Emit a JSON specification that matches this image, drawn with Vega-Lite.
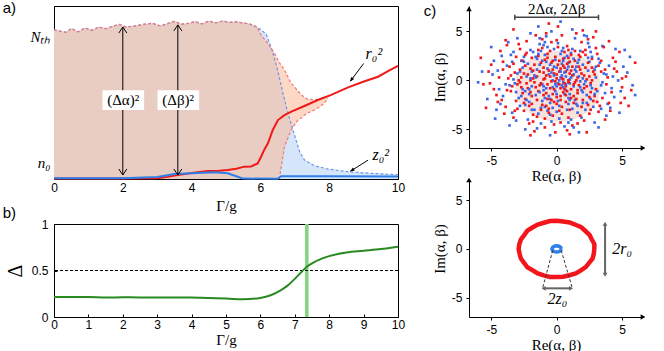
{
"$schema": "https://vega.github.io/schema/vega-lite/v6.json",
"background": "white",
"padding": {"left": 2, "top": 0, "right": 0, "bottom": 0},
"config": {
 "view": {"stroke": "black", "strokeWidth": 1},
 "axis": {"grid": false, "labelFont": "Liberation Sans", "labelFontSize": 12, "labelColor": "black", "tickColor": "black", "domainColor": "black", "tickSize": -3, "titleFont": "Liberation Serif", "titleFontSize": 15, "titleFontWeight": "normal", "titleColor": "black", "labelPadding": 3, "labelFlush": false, "labelOverlap": false},
 "text": {"font": "Liberation Serif", "fontSize": 15, "color": "black"}
},
"datasets": {
 "band": [
  {"x":0,"s":"r","lo":0,"hi":10.5},{"x":0.2,"s":"r","lo":0,"hi":10.4},{"x":0.35,"s":"r","lo":0,"hi":10.33},{"x":0.5,"s":"r","lo":0,"hi":10.6},{"x":0.7,"s":"r","lo":0,"hi":10.36},{"x":0.9,"s":"r","lo":0,"hi":10.63},{"x":1.1,"s":"r","lo":0,"hi":10.47},{"x":1.3,"s":"r","lo":0,"hi":10.7},{"x":1.5,"s":"r","lo":0,"hi":10.58},{"x":1.7,"s":"r","lo":0,"hi":10.75},{"x":1.9,"s":"r","lo":0,"hi":10.88},{"x":2.1,"s":"r","lo":0,"hi":10.7},{"x":2.35,"s":"r","lo":0,"hi":10.78},{"x":2.6,"s":"r","lo":0,"hi":10.88},{"x":2.85,"s":"r","lo":0,"hi":10.97},{"x":3.1,"s":"r","lo":0,"hi":10.77},{"x":3.3,"s":"r","lo":0,"hi":10.94},{"x":3.5,"s":"r","lo":0,"hi":11.1},{"x":3.7,"s":"r","lo":0,"hi":10.9},{"x":3.9,"s":"r","lo":0,"hi":10.95},{"x":4.1,"s":"r","lo":0,"hi":11.08},{"x":4.3,"s":"r","lo":0,"hi":10.92},{"x":4.5,"s":"r","lo":0,"hi":11.12},{"x":4.7,"s":"r","lo":0,"hi":11.0},{"x":4.9,"s":"r","lo":0,"hi":11.12},{"x":5.1,"s":"r","lo":0,"hi":11.03},{"x":5.3,"s":"r","lo":0,"hi":11.06},{"x":5.5,"s":"r","lo":0,"hi":10.98},{"x":5.7,"s":"r","lo":0,"hi":10.92},{"x":5.9,"s":"r","lo":0,"hi":10.7},{"x":6.02,"s":"r","lo":0,"hi":10.14},{"x":6.2,"s":"r","lo":0,"hi":9.6},{"x":6.41,"s":"r","lo":0,"hi":8.85},{"x":6.55,"s":"r","lo":0,"hi":8.2},{"x":6.7,"s":"r","lo":2.27,"hi":7.68},{"x":6.89,"s":"r","lo":3.45,"hi":6.75},{"x":7.09,"s":"r","lo":4.15,"hi":6.2},{"x":7.19,"s":"r","lo":4.3,"hi":5.92},{"x":7.28,"s":"r","lo":4.5,"hi":5.75},{"x":7.38,"s":"r","lo":4.65,"hi":5.61},{"x":7.57,"s":"r","lo":4.86,"hi":5.58},{"x":7.67,"s":"r","lo":5.0,"hi":5.61},{"x":7.86,"s":"r","lo":5.33,"hi":5.75},{"x":7.96,"s":"r","lo":5.7,"hi":5.85},
  {"x":0,"s":"b","lo":0,"hi":10.5},{"x":0.2,"s":"b","lo":0,"hi":10.4},{"x":0.35,"s":"b","lo":0,"hi":10.33},{"x":0.5,"s":"b","lo":0,"hi":10.6},{"x":0.7,"s":"b","lo":0,"hi":10.36},{"x":0.9,"s":"b","lo":0,"hi":10.63},{"x":1.1,"s":"b","lo":0,"hi":10.47},{"x":1.3,"s":"b","lo":0,"hi":10.7},{"x":1.5,"s":"b","lo":0,"hi":10.58},{"x":1.7,"s":"b","lo":0,"hi":10.75},{"x":1.9,"s":"b","lo":0,"hi":10.88},{"x":2.1,"s":"b","lo":0,"hi":10.7},{"x":2.35,"s":"b","lo":0,"hi":10.78},{"x":2.6,"s":"b","lo":0,"hi":10.88},{"x":2.85,"s":"b","lo":0,"hi":10.97},{"x":3.1,"s":"b","lo":0,"hi":10.77},{"x":3.3,"s":"b","lo":0,"hi":10.94},{"x":3.5,"s":"b","lo":0,"hi":11.1},{"x":3.7,"s":"b","lo":0,"hi":10.9},{"x":3.9,"s":"b","lo":0,"hi":10.95},{"x":4.1,"s":"b","lo":0,"hi":11.08},{"x":4.3,"s":"b","lo":0,"hi":10.92},{"x":4.5,"s":"b","lo":0,"hi":11.12},{"x":4.7,"s":"b","lo":0,"hi":11.0},{"x":4.9,"s":"b","lo":0,"hi":11.12},{"x":5.1,"s":"b","lo":0,"hi":11.03},{"x":5.3,"s":"b","lo":0,"hi":11.06},{"x":5.5,"s":"b","lo":0,"hi":10.98},{"x":5.6,"s":"b","lo":0,"hi":10.95},{"x":5.8,"s":"b","lo":0,"hi":10.8},{"x":6.0,"s":"b","lo":0,"hi":10.55},{"x":6.17,"s":"b","lo":0,"hi":10.2},{"x":6.35,"s":"b","lo":0,"hi":9.0},{"x":6.5,"s":"b","lo":0,"hi":7.68},{"x":6.65,"s":"b","lo":0,"hi":6.1},{"x":6.8,"s":"b","lo":0,"hi":4.63},{"x":6.99,"s":"b","lo":0,"hi":3.1},{"x":7.14,"s":"b","lo":0,"hi":1.92},{"x":7.28,"s":"b","lo":0,"hi":1.34},{"x":7.57,"s":"b","lo":0,"hi":0.94},{"x":7.96,"s":"b","lo":0,"hi":0.7},{"x":8.55,"s":"b","lo":0,"hi":0.51},{"x":9.22,"s":"b","lo":0,"hi":0.4},{"x":10,"s":"b","lo":0,"hi":0.3}
 ],
 "sol": [
  {"x":0,"s":"r","v":0.03},{"x":1,"s":"r","v":0.03},{"x":2,"s":"r","v":0.04},{"x":3.0,"s":"r","v":0.06},{"x":3.3,"s":"r","v":0.15},{"x":3.6,"s":"r","v":0.28},{"x":4.0,"s":"r","v":0.42},{"x":4.47,"s":"r","v":0.56},{"x":4.8,"s":"r","v":0.58},{"x":5.05,"s":"r","v":0.63},{"x":5.3,"s":"r","v":0.72},{"x":5.53,"s":"r","v":0.87},{"x":5.73,"s":"r","v":0.88},{"x":5.92,"s":"r","v":1.1},{"x":6.02,"s":"r","v":1.57},{"x":6.12,"s":"r","v":2.1},{"x":6.22,"s":"r","v":2.51},{"x":6.36,"s":"r","v":3.45},{"x":6.51,"s":"r","v":4.15},{"x":6.7,"s":"r","v":4.5},{"x":6.9,"s":"r","v":4.74},{"x":7.28,"s":"r","v":5.14},{"x":7.67,"s":"r","v":5.56},{"x":8.06,"s":"r","v":5.92},{"x":8.55,"s":"r","v":6.45},{"x":9.03,"s":"r","v":6.88},{"x":9.42,"s":"r","v":7.2},{"x":9.71,"s":"r","v":7.6},{"x":10,"s":"r","v":7.96},
  {"x":0,"s":"b","v":0.05},{"x":2,"s":"b","v":0.06},{"x":3.0,"s":"b","v":0.14},{"x":3.5,"s":"b","v":0.35},{"x":4.0,"s":"b","v":0.4},{"x":4.5,"s":"b","v":0.45},{"x":4.66,"s":"b","v":0.47},{"x":5.05,"s":"b","v":0.4},{"x":5.34,"s":"b","v":0.16},{"x":5.5,"s":"b","v":0.03},{"x":6.5,"s":"b","v":0.02},{"x":6.6,"s":"b","v":0.2},{"x":7,"s":"b","v":0.2},{"x":8,"s":"b","v":0.2},{"x":10,"s":"b","v":0.18}
 ],
 "delta": [
  {"x":0,"d":0.216},{"x":0.5,"d":0.214},{"x":1,"d":0.215},{"x":1.5,"d":0.21},{"x":2,"d":0.212},{"x":3,"d":0.21},{"x":4,"d":0.21},{"x":4.5,"d":0.203},{"x":5,"d":0.198},{"x":5.5,"d":0.19},{"x":6,"d":0.205},{"x":6.3,"d":0.234},{"x":6.6,"d":0.29},{"x":6.8,"d":0.34},{"x":7.0,"d":0.41},{"x":7.2,"d":0.486},{"x":7.35,"d":0.54},{"x":7.5,"d":0.576},{"x":7.8,"d":0.63},{"x":8.0,"d":0.655},{"x":8.5,"d":0.694},{"x":9,"d":0.712},{"x":9.5,"d":0.73},{"x":10,"d":0.755}
 ],
 "scat": [
  {"x":-0.4,"y":0.8,"c":"b"},{"x":1.3,"y":-0.6,"c":"b"},{"x":-2.1,"y":-1.4,"c":"b"},{"x":0.6,"y":2.3,"c":"b"},{"x":2.5,"y":1.9,"c":"b"},{"x":-1.2,"y":-2.8,"c":"b"},{"x":0.1,"y":-0.3,"c":"b"},{"x":3.1,"y":-1.1,"c":"b"},{"x":-2.7,"y":2.0,"c":"b"},{"x":1.8,"y":3.0,"c":"b"},
  {"x":-0.6,"y":-1.6,"c":"b"},{"x":2.0,"y":0.2,"c":"b"},{"x":-1.5,"y":1.1,"c":"b"},{"x":0.9,"y":-2.4,"c":"b"},{"x":-3.2,"y":-0.3,"c":"b"},{"x":1.5,"y":1.4,"c":"b"},{"x":-0.2,"y":3.2,"c":"b"},{"x":2.8,"y":-2.7,"c":"b"},{"x":-1.9,"y":-0.6,"c":"b"},{"x":0.4,"y":0.5,"c":"b"},
  {"x":-1.1,"y":-0.4,"c":"b"},{"x":3.6,"y":0.7,"c":"b"},{"x":-2.4,"y":-2.5,"c":"b"},{"x":0.2,"y":-3.9,"c":"b"},{"x":1.1,"y":2.8,"c":"b"},{"x":-3.8,"y":1.5,"c":"b"},{"x":2.3,"y":-1.5,"c":"b"},{"x":-0.8,"y":1.9,"c":"b"},{"x":0.7,"y":-1.0,"c":"b"},{"x":-2.0,"y":3.1,"c":"b"},
  {"x":4.2,"y":-0.8,"c":"b"},{"x":-4.4,"y":-0.9,"c":"b"},{"x":1.6,"y":-3.3,"c":"b"},{"x":-1.3,"y":3.7,"c":"b"},{"x":0.0,"y":1.3,"c":"b"},{"x":2.6,"y":2.9,"c":"b"},{"x":-2.9,"y":-1.8,"c":"b"},{"x":1.0,"y":0.1,"c":"b"},{"x":-0.5,"y":-2.3,"c":"b"},{"x":3.3,"y":1.8,"c":"b"},
  {"x":-1.7,"y":0.5,"c":"b"},{"x":0.5,"y":-0.7,"c":"b"},{"x":-0.9,"y":2.6,"c":"b"},{"x":2.1,"y":-0.4,"c":"b"},{"x":-2.6,"y":-0.9,"c":"b"},{"x":1.4,"y":-2.0,"c":"b"},{"x":-0.3,"y":0.0,"c":"b"},{"x":0.8,"y":1.1,"c":"b"},{"x":-3.5,"y":2.6,"c":"b"},{"x":3.9,"y":-2.4,"c":"b"},
  {"x":-1.4,"y":-3.4,"c":"b"},{"x":2.4,"y":3.8,"c":"b"},{"x":-0.1,"y":-1.1,"c":"b"},{"x":1.9,"y":-1.0,"c":"b"},{"x":-2.2,"y":1.7,"c":"b"},{"x":0.3,"y":2.7,"c":"b"},{"x":4.7,"y":0.0,"c":"b"},{"x":-4.9,"y":0.6,"c":"b"},{"x":0.6,"y":-4.7,"c":"b"},{"x":-0.8,"y":4.5,"c":"b"},
  {"x":5.1,"y":1.4,"c":"b"},{"x":-5.3,"y":-1.9,"c":"b"},{"x":2.9,"y":-4.3,"c":"b"},{"x":-3.0,"y":4.3,"c":"b"},{"x":1.2,"y":5.2,"c":"b"},{"x":-1.5,"y":-4.9,"c":"b"},{"x":4.4,"y":-1.7,"c":"b"},{"x":-4.2,"y":2.5,"c":"b"},{"x":3.5,"y":3.5,"c":"b"},{"x":-3.4,"y":-3.3,"c":"b"},
  {"x":0.0,"y":-0.6,"c":"b"},{"x":1.3,"y":0.6,"c":"b"},{"x":-1.0,"y":-1.0,"c":"b"},{"x":0.4,"y":1.7,"c":"b"},{"x":-2.3,"y":0.4,"c":"b"},{"x":2.7,"y":-0.8,"c":"b"},{"x":-0.7,"y":-3.1,"c":"b"},{"x":1.7,"y":2.1,"c":"b"},{"x":-1.8,"y":2.9,"c":"b"},{"x":0.9,"y":-1.8,"c":"b"},
  {"x":3.0,"y":0.3,"c":"b"},{"x":-3.1,"y":-1.2,"c":"b"},{"x":0.1,"y":3.8,"c":"b"},{"x":-0.4,"y":-4.2,"c":"b"},{"x":2.2,"y":-3.0,"c":"b"},{"x":-2.5,"y":2.4,"c":"b"},{"x":1.5,"y":0.9,"c":"b"},{"x":-1.1,"y":-2.1,"c":"b"},{"x":0.7,"y":0.4,"c":"b"},{"x":-0.2,"y":1.4,"c":"b"},
  {"x":5.8,"y":-0.5,"c":"b"},{"x":-5.7,"y":0.9,"c":"b"},{"x":0.3,"y":6.0,"c":"b"},{"x":-0.5,"y":-5.6,"c":"b"},{"x":4.5,"y":3.2,"c":"b"},{"x":-4.6,"y":-3.0,"c":"b"},{"x":3.8,"y":-3.6,"c":"b"},{"x":-3.7,"y":3.9,"c":"b"},{"x":5.6,"y":2.4,"c":"b"},{"x":-2.4,"y":-5.0,"c":"b"},
  {"x":1.0,"y":-0.3,"c":"b"},{"x":-0.6,"y":0.6,"c":"b"},{"x":2.0,"y":1.6,"c":"b"},{"x":-1.6,"y":-1.5,"c":"b"},{"x":0.2,"y":-2.6,"c":"b"},{"x":-0.1,"y":2.1,"c":"b"},{"x":2.6,"y":-1.9,"c":"b"},{"x":-2.8,"y":0.9,"c":"b"},{"x":1.8,"y":-0.1,"c":"b"},{"x":-1.3,"y":1.6,"c":"b"},
  {"x":3.4,"y":-0.5,"c":"b"},{"x":-3.3,"y":0.1,"c":"b"},{"x":0.5,"y":3.3,"c":"b"},{"x":-0.9,"y":-2.7,"c":"b"},{"x":2.4,"y":2.3,"c":"b"},{"x":-2.1,"y":-2.2,"c":"b"},{"x":1.1,"y":-4.0,"c":"b"},{"x":-1.0,"y":3.6,"c":"b"},{"x":0.6,"y":-1.4,"c":"b"},{"x":-0.3,"y":-0.7,"c":"b"},
  {"x":4.0,"y":1.5,"c":"b"},{"x":-4.1,"y":-1.6,"c":"b"},{"x":1.4,"y":4.3,"c":"b"},{"x":-1.2,"y":-4.4,"c":"b"},{"x":3.7,"y":-1.3,"c":"b"},{"x":-3.6,"y":-0.5,"c":"b"},{"x":2.1,"y":4.6,"c":"b"},{"x":-2.0,"y":4.8,"c":"b"},{"x":0.8,"y":-3.0,"c":"b"},{"x":-0.7,"y":1.2,"c":"b"},
  {"x":0.3,"y":0.3,"c":"b"},{"x":1.6,"y":-2.6,"c":"b"},{"x":-1.5,"y":2.2,"c":"b"},{"x":2.9,"y":1.1,"c":"b"},{"x":-2.7,"y":-1.6,"c":"b"},{"x":0.9,"y":1.8,"c":"b"},{"x":-0.5,"y":-1.9,"c":"b"},{"x":1.2,"y":3.2,"c":"b"},{"x":-1.9,"y":-3.0,"c":"b"},{"x":2.3,"y":-2.3,"c":"b"},
  {"x":6.0,"y":-1.5,"c":"b"},{"x":-6.0,"y":-0.2,"c":"b"},{"x":5.2,"y":3.1,"c":"b"},{"x":-5.0,"y":3.4,"c":"b"},{"x":4.8,"y":-3.3,"c":"b"},{"x":-4.7,"y":-3.9,"c":"b"},{"x":1.7,"y":-5.3,"c":"b"},{"x":-1.4,"y":5.5,"c":"b"},{"x":3.2,"y":-4.8,"c":"b"},{"x":-3.6,"y":-4.6,"c":"b"},
  {"x":0.3,"y":1.2,"c":"r"},{"x":-1.5,"y":0.4,"c":"r"},{"x":2.1,"y":-0.8,"c":"r"},{"x":-0.7,"y":-1.9,"c":"r"},{"x":1.1,"y":2.6,"c":"r"},{"x":-2.8,"y":1.1,"c":"r"},{"x":0.9,"y":-0.2,"c":"r"},{"x":-0.2,"y":0.7,"c":"r"},{"x":3.2,"y":1.5,"c":"r"},{"x":-1.9,"y":-2.4,"c":"r"},
  {"x":1.6,"y":0.3,"c":"r"},{"x":-0.9,"y":2.1,"c":"r"},{"x":0.4,"y":-2.7,"c":"r"},{"x":2.7,"y":2.2,"c":"r"},{"x":-3.4,"y":-0.6,"c":"r"},{"x":1.3,"y":-1.6,"c":"r"},{"x":-1.2,"y":-0.3,"c":"r"},{"x":0.1,"y":3.4,"c":"r"},{"x":-2.3,"y":2.8,"c":"r"},{"x":2.4,"y":-2.5,"c":"r"},
  {"x":-0.5,"y":-0.8,"c":"r"},{"x":1.8,"y":1.1,"c":"r"},{"x":-1.7,"y":1.6,"c":"r"},{"x":0.7,"y":0.9,"c":"r"},{"x":-2.6,"y":-1.3,"c":"r"},{"x":3.8,"y":-0.4,"c":"r"},{"x":-0.3,"y":-3.6,"c":"r"},{"x":1.0,"y":-3.0,"c":"r"},{"x":-4.1,"y":1.9,"c":"r"},{"x":2.9,"y":0.6,"c":"r"},
  {"x":-1.1,"y":3.3,"c":"r"},{"x":0.5,"y":-1.2,"c":"r"},{"x":-2.0,"y":0.0,"c":"r"},{"x":1.4,"y":2.0,"c":"r"},{"x":-0.8,"y":-2.6,"c":"r"},{"x":4.4,"y":1.2,"c":"r"},{"x":-3.0,"y":-2.9,"c":"r"},{"x":0.2,"y":-0.4,"c":"r"},{"x":2.2,"y":3.1,"c":"r"},{"x":-1.4,"y":-1.1,"c":"r"},
  {"x":0.8,"y":1.7,"c":"r"},{"x":-0.1,"y":2.4,"c":"r"},{"x":3.5,"y":-1.8,"c":"r"},{"x":-2.5,"y":0.7,"c":"r"},{"x":1.7,"y":-0.5,"c":"r"},{"x":-0.6,"y":1.0,"c":"r"},{"x":0.0,"y":-1.7,"c":"r"},{"x":-3.7,"y":0.2,"c":"r"},{"x":2.6,"y":-1.2,"c":"r"},{"x":-1.8,"y":-3.5,"c":"r"},
  {"x":1.2,"y":0.5,"c":"r"},{"x":-0.4,"y":-0.1,"c":"r"},{"x":0.6,"y":2.9,"c":"r"},{"x":-2.2,"y":-0.8,"c":"r"},{"x":2.0,"y":-2.0,"c":"r"},{"x":-1.0,"y":1.3,"c":"r"},{"x":4.9,"y":-2.3,"c":"r"},{"x":-4.6,"y":-1.5,"c":"r"},{"x":0.3,"y":-4.3,"c":"r"},{"x":1.9,"y":3.9,"c":"r"},
  {"x":-0.9,"y":-4.8,"c":"r"},{"x":3.1,"y":2.7,"c":"r"},{"x":-2.9,"y":3.7,"c":"r"},{"x":0.9,"y":-3.8,"c":"r"},{"x":-5.2,"y":0.9,"c":"r"},{"x":5.3,"y":0.4,"c":"r"},{"x":-1.6,"y":4.6,"c":"r"},{"x":2.5,"y":-3.4,"c":"r"},{"x":-3.3,"y":-3.8,"c":"r"},{"x":1.5,"y":4.8,"c":"r"},
  {"x":-0.2,"y":-2.2,"c":"r"},{"x":0.7,"y":-0.6,"c":"r"},{"x":-1.3,"y":0.9,"c":"r"},{"x":2.3,"y":0.1,"c":"r"},{"x":-2.4,"y":-1.9,"c":"r"},{"x":1.0,"y":1.9,"c":"r"},{"x":-0.7,"y":2.7,"c":"r"},{"x":3.0,"y":-0.9,"c":"r"},{"x":-3.6,"y":1.4,"c":"r"},{"x":0.4,"y":0.2,"c":"r"},
  {"x":-0.1,"y":-5.3,"c":"r"},{"x":2.8,"y":4.4,"c":"r"},{"x":-4.3,"y":3.0,"c":"r"},{"x":4.1,"y":-3.1,"c":"r"},{"x":-2.1,"y":-4.4,"c":"r"},{"x":0.1,"y":5.5,"c":"r"},{"x":-5.6,"y":-0.4,"c":"r"},{"x":5.7,"y":-1.0,"c":"r"},{"x":3.6,"y":3.4,"c":"r"},{"x":-3.9,"y":-2.7,"c":"r"},
  {"x":1.3,"y":-2.3,"c":"r"},{"x":-1.9,"y":2.3,"c":"r"},{"x":0.5,"y":1.5,"c":"r"},{"x":-0.3,"y":-1.4,"c":"r"},{"x":2.7,"y":1.3,"c":"r"},{"x":-1.5,"y":-2.0,"c":"r"},{"x":0.9,"y":0.0,"c":"r"},{"x":-2.7,"y":0.3,"c":"r"},{"x":1.6,"y":-1.3,"c":"r"},{"x":-0.5,"y":3.0,"c":"r"},
  {"x":4.6,"y":0.9,"c":"r"},{"x":-4.8,"y":-0.9,"c":"r"},{"x":0.0,"y":4.1,"c":"r"},{"x":0.2,"y":-3.1,"c":"r"},{"x":3.3,"y":-2.6,"c":"r"},{"x":-3.1,"y":2.4,"c":"r"},{"x":1.8,"y":2.4,"c":"r"},{"x":-1.2,"y":-3.0,"c":"r"},{"x":2.1,"y":-4.1,"c":"r"},{"x":-2.3,"y":4.0,"c":"r"},
  {"x":0.6,"y":-0.9,"c":"r"},{"x":-0.8,"y":0.5,"c":"r"},{"x":1.1,"y":1.0,"c":"r"},{"x":-1.6,"y":-0.7,"c":"r"},{"x":2.4,"y":1.8,"c":"r"},{"x":-2.0,"y":1.2,"c":"r"},{"x":0.3,"y":-2.0,"c":"r"},{"x":-0.4,"y":1.8,"c":"r"},{"x":3.9,"y":0.3,"c":"r"},{"x":-3.5,"y":-1.1,"c":"r"},
  {"x":1.4,"y":-0.2,"c":"r"},{"x":-1.0,"y":-1.5,"c":"r"},{"x":0.8,"y":3.5,"c":"r"},{"x":-2.6,"y":2.0,"c":"r"},{"x":2.9,"y":-1.6,"c":"r"},{"x":-0.6,"y":-2.9,"c":"r"},{"x":1.9,"y":0.7,"c":"r"},{"x":-1.4,"y":2.5,"c":"r"},{"x":0.0,"y":0.6,"c":"r"},{"x":-0.2,"y":-0.9,"c":"r"},
  {"x":4.3,"y":2.3,"c":"r"},{"x":-4.0,"y":-3.4,"c":"r"},{"x":2.6,"y":-0.3,"c":"r"},{"x":-2.8,"y":-0.2,"c":"r"},{"x":1.2,"y":-4.6,"c":"r"},{"x":-1.1,"y":4.2,"c":"r"},{"x":3.4,"y":0.9,"c":"r"},{"x":-3.2,"y":0.8,"c":"r"},{"x":0.5,"y":2.2,"c":"r"},{"x":-0.9,"y":-3.9,"c":"r"},
  {"x":5.0,"y":-0.7,"c":"r"},{"x":-5.0,"y":1.6,"c":"r"},{"x":2.0,"y":5.1,"c":"r"},{"x":-1.7,"y":-5.2,"c":"r"},{"x":3.7,"y":-4.0,"c":"r"},{"x":-3.8,"y":3.6,"c":"r"},{"x":4.8,"y":2.9,"c":"r"},{"x":-4.5,"y":-2.2,"c":"r"},{"x":1.0,"y":-5.5,"c":"r"},{"x":-0.6,"y":5.8,"c":"r"},
  {"x":0.2,"y":0.9,"c":"r"},{"x":1.5,"y":-1.9,"c":"r"},{"x":-1.3,"y":-0.5,"c":"r"},{"x":2.2,"y":2.6,"c":"r"},{"x":-2.1,"y":-2.6,"c":"r"},{"x":0.7,"y":-1.5,"c":"r"},{"x":-0.3,"y":2.0,"c":"r"},{"x":1.7,"y":1.4,"c":"r"},{"x":-2.4,"y":1.5,"c":"r"},{"x":0.4,"y":-3.4,"c":"r"},
  {"x":2.5,"y":0.4,"c":"r"},{"x":-1.8,"y":0.2,"c":"r"},{"x":1.1,"y":-0.9,"c":"r"},{"x":-0.7,"y":-0.4,"c":"r"},{"x":3.2,"y":-3.2,"c":"r"},{"x":-2.5,"y":-3.1,"c":"r"},{"x":0.9,"y":2.3,"c":"r"},{"x":-1.0,"y":0.1,"c":"r"},{"x":2.8,"y":-2.1,"c":"r"},{"x":-3.0,"y":-0.4,"c":"r"},
  {"x":6.0,"y":1.8,"c":"r"},{"x":-5.8,"y":2.3,"c":"r"},{"x":5.5,"y":-2.6,"c":"r"},{"x":-5.4,"y":-2.8,"c":"r"},{"x":3.0,"y":5.0,"c":"r"},{"x":-3.3,"y":5.2,"c":"r"},{"x":0.8,"y":-5.1,"c":"r"},{"x":4.0,"y":4.0,"c":"r"},{"x":-2.0,"y":-5.6,"c":"r"},{"x":2.3,"y":-5.3,"c":"r"},
  {"x":-0.2,"y":0.5,"c":"b"},{"x":1.0,"y":-1.4,"c":"b"},{"x":-1.6,"y":0.3,"c":"b"},{"x":0.8,"y":2.5,"c":"b"},{"x":2.2,"y":-0.1,"c":"b"},{"x":-0.9,"y":-1.8,"c":"b"},{"x":0.4,"y":-0.5,"c":"b"},{"x":3.0,"y":1.4,"c":"b"},{"x":-2.6,"y":1.3,"c":"b"},{"x":1.2,"y":-2.9,"c":"b"},
  {"x":-0.5,"y":1.6,"c":"b"},{"x":1.7,"y":0.4,"c":"b"},{"x":-1.3,"y":-1.2,"c":"b"},{"x":0.1,"y":-2.1,"c":"b"},{"x":-3.0,"y":0.7,"c":"b"},{"x":2.4,"y":1.0,"c":"b"},{"x":-0.7,"y":3.4,"c":"b"},{"x":2.9,"y":-1.4,"c":"b"},{"x":-2.1,"y":-0.9,"c":"b"},{"x":0.6,"y":0.8,"c":"b"},
  {"x":-1.0,"y":-0.6,"c":"b"},{"x":3.5,"y":-0.2,"c":"b"},{"x":-2.3,"y":-2.0,"c":"b"},{"x":0.0,"y":-3.2,"c":"b"},{"x":1.3,"y":2.2,"c":"b"},{"x":-3.4,"y":1.9,"c":"b"},{"x":2.0,"y":-2.3,"c":"b"},{"x":-1.6,"y":2.4,"c":"b"},{"x":0.5,"y":-0.2,"c":"b"},{"x":-1.2,"y":3.0,"c":"b"},
  {"x":3.8,"y":0.6,"c":"b"},{"x":-3.9,"y":-0.4,"c":"b"},{"x":1.9,"y":-3.8,"c":"b"},{"x":-0.9,"y":3.9,"c":"b"},{"x":0.3,"y":0.9,"c":"b"},{"x":2.7,"y":2.4,"c":"b"},{"x":-2.8,"y":-2.6,"c":"b"},{"x":1.1,"y":0.3,"c":"b"},{"x":-0.3,"y":-2.8,"c":"b"},{"x":3.2,"y":2.2,"c":"b"},
  {"x":-1.9,"y":0.9,"c":"b"},{"x":0.7,"y":-0.4,"c":"b"},{"x":-1.1,"y":2.0,"c":"b"},{"x":1.8,"y":-0.7,"c":"b"},{"x":-2.4,"y":-1.1,"c":"b"},{"x":1.5,"y":-2.4,"c":"b"},{"x":-0.1,"y":-0.4,"c":"b"},{"x":0.9,"y":1.4,"c":"b"},{"x":-3.3,"y":2.9,"c":"b"},{"x":3.4,"y":-2.9,"c":"b"},
  {"x":-1.7,"y":-3.0,"c":"b"},{"x":2.5,"y":3.4,"c":"b"},{"x":0.0,"y":-1.4,"c":"b"},{"x":2.0,"y":-1.2,"c":"b"},{"x":-2.5,"y":1.9,"c":"b"},{"x":0.4,"y":3.0,"c":"b"},{"x":4.3,"y":0.4,"c":"b"},{"x":-4.5,"y":1.0,"c":"b"},{"x":0.9,"y":-4.3,"c":"b"},{"x":-1.3,"y":4.3,"c":"b"},
  {"x":0.2,"y":0.0,"c":"b"},{"x":1.4,"y":1.1,"c":"b"},{"x":-0.8,"y":-0.8,"c":"b"},{"x":0.5,"y":2.0,"c":"b"},{"x":-2.0,"y":0.2,"c":"b"},{"x":2.6,"y":-0.5,"c":"b"},{"x":-0.5,"y":-3.5,"c":"b"},{"x":1.6,"y":1.8,"c":"b"},{"x":-1.4,"y":2.7,"c":"b"},{"x":1.0,"y":-2.0,"c":"b"},
  {"x":4.9,"y":-1.1,"c":"b"},{"x":-4.8,"y":2.0,"c":"b"},{"x":2.3,"y":4.5,"c":"b"},{"x":-2.2,"y":-4.0,"c":"b"},{"x":4.1,"y":-2.8,"c":"b"},{"x":-4.3,"y":-2.4,"c":"b"},{"x":1.3,"y":-4.8,"c":"b"},{"x":-0.4,"y":5.0,"c":"b"},{"x":5.4,"y":0.8,"c":"b"},{"x":-3.1,"y":-4.1,"c":"b"},
  {"x":0.6,"y":-0.3,"c":"r"},{"x":-1.2,"y":1.8,"c":"r"},{"x":1.9,"y":-2.7,"c":"r"},{"x":-2.2,"y":0.6,"c":"r"},{"x":0.2,"y":2.0,"c":"r"},{"x":2.8,"y":0.9,"c":"r"},{"x":-0.8,"y":-1.3,"c":"r"},{"x":1.4,"y":3.0,"c":"r"},{"x":-3.1,"y":-2.1,"c":"r"},{"x":0.0,"y":-2.4,"c":"r"},
  {"x":-1.7,"y":-0.2,"c":"r"},{"x":2.3,"y":-0.6,"c":"r"},{"x":-0.4,"y":3.9,"c":"r"},{"x":1.0,"y":0.7,"c":"r"},{"x":-2.5,"y":-2.3,"c":"r"},{"x":3.4,"y":2.0,"c":"r"},{"x":-0.9,"y":0.2,"c":"r"},{"x":0.7,"y":-2.2,"c":"r"},{"x":-3.3,"y":1.7,"c":"r"},{"x":2.0,"y":2.9,"c":"r"},
  {"x":-0.1,"y":-0.1,"c":"r"},{"x":1.6,"y":-1.0,"c":"r"},{"x":-1.4,"y":3.1,"c":"r"},{"x":0.3,"y":-1.6,"c":"r"},{"x":-2.9,"y":0.0,"c":"r"},{"x":3.7,"y":1.1,"c":"r"},{"x":-0.6,"y":-3.3,"c":"r"},{"x":1.2,"y":1.4,"c":"r"},{"x":-1.9,"y":-1.6,"c":"r"},{"x":2.5,"y":-1.7,"c":"r"},
  {"x":-0.3,"y":1.1,"c":"r"},{"x":0.9,"y":3.1,"c":"r"},{"x":-2.4,"y":2.6,"c":"r"},{"x":1.8,"y":-3.6,"c":"r"},{"x":-3.8,"y":-1.0,"c":"r"},{"x":0.5,"y":0.1,"c":"r"},{"x":-1.1,"y":-2.5,"c":"r"},{"x":2.7,"y":0.0,"c":"r"},{"x":-0.7,"y":2.3,"c":"r"},{"x":1.3,"y":-0.4,"c":"r"},
  {"x":-2.0,"y":-1.2,"c":"r"},{"x":3.1,"y":-2.2,"c":"r"},{"x":0.1,"y":1.6,"c":"r"},{"x":-1.5,"y":-3.7,"c":"r"},{"x":2.2,"y":1.3,"c":"r"},{"x":-3.5,"y":0.5,"c":"r"},{"x":0.8,"y":-1.1,"c":"r"},{"x":-0.5,"y":0.4,"c":"r"},{"x":1.7,"y":2.6,"c":"r"},{"x":-2.7,"y":-0.7,"c":"r"},
  {"x":4.2,"y":-1.2,"c":"r"},{"x":-4.4,"y":0.3,"c":"r"},{"x":0.4,"y":4.6,"c":"r"},{"x":-0.2,"y":-4.5,"c":"r"},{"x":3.0,"y":3.3,"c":"r"},{"x":-3.2,"y":-3.1,"c":"r"},{"x":2.6,"y":-3.0,"c":"r"},{"x":-2.8,"y":3.2,"c":"r"},{"x":4.5,"y":1.9,"c":"r"},{"x":-4.2,"y":-2.0,"c":"r"},
  {"x":0.0,"y":0.2,"c":"r"},{"x":1.1,"y":-1.8,"c":"r"},{"x":-1.0,"y":0.8,"c":"r"},{"x":0.6,"y":1.3,"c":"r"},{"x":-1.8,"y":1.0,"c":"r"},{"x":2.1,"y":0.5,"c":"r"},{"x":-0.4,"y":-2.0,"c":"r"},{"x":1.5,"y":0.0,"c":"r"},{"x":-2.3,"y":-0.3,"c":"r"},{"x":0.3,"y":-0.8,"c":"r"},
  {"x":5.0,"y":0.2,"c":"r"},{"x":-5.1,"y":-0.3,"c":"r"},{"x":2.4,"y":4.2,"c":"r"},{"x":-1.8,"y":-4.2,"c":"r"},{"x":4.0,"y":-2.3,"c":"r"},{"x":-4.1,"y":1.1,"c":"r"},{"x":1.6,"y":-4.4,"c":"r"},{"x":-0.8,"y":4.8,"c":"r"},{"x":5.2,"y":-1.8,"c":"r"},{"x":-3.9,"y":4.1,"c":"r"}
 ],
 "blob": [
  {"x":-3.2,"lo":-0.6,"hi":-0.6},{"x":-3.0,"lo":-1.84,"hi":0.64},{"x":-2.6,"lo":-2.67,"hi":1.47},{"x":-2.0,"lo":-3.38,"hi":2.18},{"x":-1.4,"lo":-3.81,"hi":2.61},{"x":-0.7,"lo":-4.09,"hi":2.89},{"x":0.1,"lo":-4.2,"hi":3.0},{"x":0.9,"lo":-4.09,"hi":2.89},{"x":1.6,"lo":-3.81,"hi":2.61},{"x":2.2,"lo":-3.38,"hi":2.18},{"x":2.8,"lo":-2.67,"hi":1.47},{"x":3.2,"lo":-1.84,"hi":0.64},{"x":3.4,"lo":-0.6,"hi":-0.6}
 ],
 "ring": [
  {"i":0,"x":2.88,"y":0},{"i":1,"x":2.88,"y":0.51},{"i":2,"x":2.69,"y":0.98},{"i":3,"x":2.51,"y":1.45},{"i":4,"x":2.2,"y":1.85},{"i":5,"x":1.88,"y":2.24},{"i":6,"x":1.44,"y":2.49},{"i":7,"x":1.0,"y":2.73},{"i":8,"x":0.5,"y":2.82},{"i":9,"x":0,"y":2.9},{"i":10,"x":-0.51,"y":2.88},{"i":11,"x":-0.98,"y":2.7},{"i":12,"x":-1.45,"y":2.51},{"i":13,"x":-1.85,"y":2.21},{"i":14,"x":-2.24,"y":1.88},{"i":15,"x":-2.48,"y":1.43},{"i":16,"x":-2.73,"y":0.99},{"i":17,"x":-2.85,"y":0.5},{"i":18,"x":-2.91,"y":0},{"i":19,"x":-2.83,"y":-0.5},{"i":20,"x":-2.73,"y":-0.99},{"i":21,"x":-2.49,"y":-1.44},{"i":22,"x":-2.24,"y":-1.88},{"i":23,"x":-1.84,"y":-2.19},{"i":24,"x":-1.45,"y":-2.51},{"i":25,"x":-0.99,"y":-2.72},{"i":26,"x":-0.51,"y":-2.88},{"i":27,"x":0,"y":-2.88},{"i":28,"x":0.5,"y":-2.86},{"i":29,"x":0.98,"y":-2.7},{"i":30,"x":1.46,"y":-2.52},{"i":31,"x":1.85,"y":-2.21},{"i":32,"x":2.22,"y":-1.86},{"i":33,"x":2.48,"y":-1.43},{"i":34,"x":2.74,"y":-1.0},{"i":35,"x":2.84,"y":-0.5},{"i":36,"x":2.88,"y":0}
 ],
 "zring": [
  {"i":0,"x":0.36,"y":0},{"i":1,"x":0.31,"y":0.16},{"i":2,"x":0.18,"y":0.28},{"i":3,"x":0,"y":0.32},{"i":4,"x":-0.18,"y":0.28},{"i":5,"x":-0.31,"y":0.16},{"i":6,"x":-0.36,"y":0},{"i":7,"x":-0.31,"y":-0.16},{"i":8,"x":-0.18,"y":-0.28},{"i":9,"x":0,"y":-0.32},{"i":10,"x":0.18,"y":-0.28},{"i":11,"x":0.31,"y":-0.16},{"i":12,"x":0.36,"y":0}
 ]
},
"spacing": 17,
"hconcat": [
 {
  "bounds": "flush",
  "spacing": 45,
  "vconcat": [
   {
    "width": 344, "height": 173,
    "layer": [
     {"data": {"name": "band"}, "transform": [{"filter": "datum.s == 'b'"}],
      "mark": {"type": "area", "color": "#d6e6fa", "opacity": 1},
      "encoding": {
       "x": {"field": "x", "type": "quantitative", "scale": {"domain": [0, 10], "nice": false}, "axis": {"values": [0,1,2,3,4,5,6,7,8,9,10], "title": "Γ/g", "titlePadding": 5, "labelPadding": 6}},
       "y": {"field": "lo", "type": "quantitative", "scale": {"domain": [0, 12.18], "nice": false}, "axis": {"values": [1.13, 10], "labelExpr": "datum.value > 5 ? 'Nₜₕ' : 'n₀'", "labelFont": "Liberation Serif", "labelFontStyle": "italic", "labelFontSize": 15, "labelPadding": 7, "title": null}},
       "y2": {"field": "hi"}}},
     {"data": {"name": "band"}, "transform": [{"filter": "datum.s == 'r'"}],
      "mark": {"type": "area", "color": "#fbb38b", "opacity": 0.5},
      "encoding": {
       "x": {"field": "x", "type": "quantitative", "scale": {"domain": [0, 10], "nice": false}},
       "y": {"field": "lo", "type": "quantitative", "scale": {"domain": [0, 12.18], "nice": false}},
       "y2": {"field": "hi"}}},
     {"data": {"name": "band"}, "transform": [{"filter": "datum.s == 'b'"}],
      "mark": {"type": "line", "color": "#6f96e6", "strokeWidth": 1.2, "strokeDash": [3, 2]},
      "encoding": {
       "x": {"field": "x", "type": "quantitative", "scale": {"domain": [0, 10], "nice": false}},
       "y": {"field": "hi", "type": "quantitative", "scale": {"domain": [0, 12.18], "nice": false}}}},
     {"data": {"name": "band"}, "transform": [{"filter": "datum.s == 'r'"}],
      "mark": {"type": "line", "color": "#f27a7a", "strokeWidth": 1.2, "strokeDash": [3, 2]},
      "encoding": {
       "x": {"field": "x", "type": "quantitative", "scale": {"domain": [0, 10], "nice": false}},
       "y": {"field": "hi", "type": "quantitative", "scale": {"domain": [0, 12.18], "nice": false}}}},
     {"data": {"name": "band"}, "transform": [{"filter": "datum.s == 'r' && datum.x >= 6.55"}],
      "mark": {"type": "line", "color": "#f27a7a", "strokeWidth": 1.2, "strokeDash": [3, 2]},
      "encoding": {
       "x": {"field": "x", "type": "quantitative", "scale": {"domain": [0, 10], "nice": false}},
       "y": {"field": "lo", "type": "quantitative", "scale": {"domain": [0, 12.18], "nice": false}}}},
     {"data": {"name": "sol"}, "transform": [{"filter": "datum.s == 'r'"}],
      "mark": {"type": "line", "color": "#f01818", "strokeWidth": 2},
      "encoding": {
       "x": {"field": "x", "type": "quantitative", "scale": {"domain": [0, 10], "nice": false}},
       "y": {"field": "v", "type": "quantitative", "scale": {"domain": [0, 12.18], "nice": false}}}},
     {"data": {"name": "sol"}, "transform": [{"filter": "datum.s == 'b'"}],
      "mark": {"type": "line", "color": "#2f7fe8", "strokeWidth": 2},
      "encoding": {
       "x": {"field": "x", "type": "quantitative", "scale": {"domain": [0, 10], "nice": false}},
       "y": {"field": "v", "type": "quantitative", "scale": {"domain": [0, 12.18], "nice": false}}}},
     {"data": {"values": [{"x": 2, "a": 0.28, "b": 10.7}, {"x": 3.6, "a": 0.28, "b": 10.85}]},
      "mark": {"type": "rule", "color": "black", "strokeWidth": 1},
      "encoding": {
       "x": {"field": "x", "type": "quantitative", "scale": {"domain": [0, 10], "nice": false}},
       "y": {"field": "a", "type": "quantitative", "scale": {"domain": [0, 12.18], "nice": false}},
       "y2": {"field": "b"}}},
     {"data": {"values": [{"x": 2, "a": 0.28, "b": 10.7}, {"x": 3.6, "a": 0.28, "b": 10.85}]},
      "mark": {"type": "point", "shape": "M-0.8,1.2L0,0L0.8,1.2", "size": 100, "filled": false, "stroke": "black", "strokeWidth": 1, "opacity": 1},
      "encoding": {
       "x": {"field": "x", "type": "quantitative", "scale": {"domain": [0, 10], "nice": false}},
       "y": {"field": "b", "type": "quantitative", "scale": {"domain": [0, 12.18], "nice": false}}}},
     {"data": {"values": [{"x": 2, "a": 0.28, "b": 10.7}, {"x": 3.6, "a": 0.28, "b": 10.85}]},
      "mark": {"type": "point", "shape": "M-0.8,-1.2L0,0L0.8,-1.2", "size": 100, "filled": false, "stroke": "black", "strokeWidth": 1, "opacity": 1},
      "encoding": {
       "x": {"field": "x", "type": "quantitative", "scale": {"domain": [0, 10], "nice": false}},
       "y": {"field": "a", "type": "quantitative", "scale": {"domain": [0, 12.18], "nice": false}}}},
     {"data": {"values": [{"x1": 1.41, "x2": 2.62, "y1": 4.85, "y2": 6.25}, {"x1": 3.01, "x2": 4.22, "y1": 4.85, "y2": 6.25}]},
      "mark": {"type": "rect", "color": "white", "opacity": 1},
      "encoding": {
       "x": {"field": "x1", "type": "quantitative", "scale": {"domain": [0, 10], "nice": false}},
       "x2": {"field": "x2"},
       "y": {"field": "y1", "type": "quantitative", "scale": {"domain": [0, 12.18], "nice": false}},
       "y2": {"field": "y2"}}},
     {"data": {"values": [{"x": 2.01, "y": 5.55, "t": "(Δα)²"}, {"x": 3.61, "y": 5.55, "t": "(Δβ)²"}]},
      "mark": {"type": "text", "font": "Liberation Serif", "fontSize": 15, "baseline": "middle", "align": "center"},
      "encoding": {
       "x": {"field": "x", "type": "quantitative", "scale": {"domain": [0, 10], "nice": false}},
       "y": {"field": "y", "type": "quantitative", "scale": {"domain": [0, 12.18], "nice": false}},
       "text": {"field": "t"}}},
     {"data": {"values": [{"x": 9.3, "y": 8.83, "t": "r₀²"}, {"x": 9.5, "y": 1.69, "t": "z₀²"}]},
      "mark": {"type": "text", "font": "Liberation Serif", "fontSize": 16, "fontStyle": "italic", "baseline": "middle", "align": "center"},
      "encoding": {
       "x": {"field": "x", "type": "quantitative", "scale": {"domain": [0, 10], "nice": false}},
       "y": {"field": "y", "type": "quantitative", "scale": {"domain": [0, 12.18], "nice": false}},
       "text": {"field": "t"}}},
     {"data": {"values": [{"x": 9.0, "y": 8.13, "x2": 8.62, "y2": 6.9}, {"x": 9.13, "y": 1.33, "x2": 8.62, "y2": 0.55}]},
      "mark": {"type": "rule", "color": "black", "strokeWidth": 1},
      "encoding": {
       "x": {"field": "x", "type": "quantitative", "scale": {"domain": [0, 10], "nice": false}},
       "y": {"field": "y", "type": "quantitative", "scale": {"domain": [0, 12.18], "nice": false}},
       "x2": {"field": "x2"}, "y2": {"field": "y2"}}},
     {"data": {"values": [{"x": 8.6, "y": 6.84}]},
      "mark": {"type": "point", "shape": "M0,0L-0.6,1.6L0.6,1.6Z", "size": 36, "filled": true, "color": "black", "opacity": 1, "angle": 217},
      "encoding": {
       "x": {"field": "x", "type": "quantitative", "scale": {"domain": [0, 10], "nice": false}},
       "y": {"field": "y", "type": "quantitative", "scale": {"domain": [0, 12.18], "nice": false}}}},
     {"data": {"values": [{"x": 8.6, "y": 0.52}]},
      "mark": {"type": "point", "shape": "M0,0L-0.6,1.6L0.6,1.6Z", "size": 36, "filled": true, "color": "black", "opacity": 1, "angle": 238},
      "encoding": {
       "x": {"field": "x", "type": "quantitative", "scale": {"domain": [0, 10], "nice": false}},
       "y": {"field": "y", "type": "quantitative", "scale": {"domain": [0, 12.18], "nice": false}}}},
     {"data": {"values": [{"x": -1.49, "y": 12.04, "t": "a)"}]},
      "mark": {"type": "text", "font": "Liberation Sans", "fontSize": 15, "align": "left", "baseline": "middle"},
      "encoding": {
       "x": {"field": "x", "type": "quantitative", "scale": {"domain": [0, 10], "nice": false}},
       "y": {"field": "y", "type": "quantitative", "scale": {"domain": [0, 12.18], "nice": false}},
       "text": {"field": "t"}}}
    ]
   },
   {
    "width": 344, "height": 93,
    "layer": [
     {"data": {"values": [{"x": 7.35}]},
      "mark": {"type": "rule", "color": "#7fd67f", "strokeWidth": 3.5},
      "encoding": {"x": {"field": "x", "type": "quantitative", "scale": {"domain": [0, 10], "nice": false}, "axis": {"values": [0,1,2,3,4,5,6,7,8,9,10], "labelOverlap": false, "title": "Γ/g", "titlePadding": 2, "labelPadding": 5}}}},
     {"data": {"values": [{"y": 0.5}]},
      "mark": {"type": "rule", "color": "black", "strokeWidth": 1, "strokeDash": [3, 2]},
      "encoding": {"y": {"field": "y", "type": "quantitative", "scale": {"domain": [0, 1], "nice": false}, "axis": {"values": [0, 0.25, 0.5, 0.75, 1], "labelExpr": "datum.value == 0 ? '0' : datum.value == 0.5 ? '0.5' : datum.value == 1 ? '1' : ''", "labelPadding": 9, "title": "Δ", "titleFontSize": 20, "titlePadding": 6}}}},
     {"data": {"name": "delta"},
      "mark": {"type": "line", "color": "#2a8a22", "strokeWidth": 2, "interpolate": "monotone"},
      "encoding": {
       "x": {"field": "x", "type": "quantitative", "scale": {"domain": [0, 10], "nice": false}, "axis": {"values": [0,1,2,3,4,5,6,7,8,9,10], "labelOverlap": false, "title": "Γ/g", "titlePadding": 2, "labelPadding": 5}},
       "y": {"field": "d", "type": "quantitative", "scale": {"domain": [0, 1], "nice": false}, "axis": {"values": [0, 0.25, 0.5, 0.75, 1], "labelExpr": "datum.value == 0 ? '0' : datum.value == 0.5 ? '0.5' : datum.value == 1 ? '1' : ''", "labelPadding": 9, "title": "Δ", "titleFontSize": 20, "titlePadding": 6}}}},
     {"data": {"values": [{"x": -1.49, "y": 1.12, "t": "b)"}]},
      "mark": {"type": "text", "font": "Liberation Sans", "fontSize": 15, "align": "left", "baseline": "middle"},
      "encoding": {
       "x": {"field": "x", "type": "quantitative", "scale": {"domain": [0, 10], "nice": false}, "axis": {"values": [0,1,2,3,4,5,6,7,8,9,10], "labelOverlap": false, "title": "Γ/g", "titlePadding": 2, "labelPadding": 5}},
       "y": {"field": "y", "type": "quantitative", "scale": {"domain": [0, 1], "nice": false}},
       "text": {"field": "t"}}}
    ]
   }
  ]
 },
 {
  "bounds": "flush",
  "spacing": 32,
  "vconcat": [
   {
    "width": 174, "height": 142,
    "view": {"stroke": null},
    "layer": [
     {"data": {"name": "blob"},
      "mark": {"type": "area", "color": "#e9c2b2", "opacity": 0.45, "interpolate": "monotone"},
      "encoding": {
       "x": {"field": "x", "type": "quantitative", "scale": {"domain": [-6.7, 6.6], "nice": false}, "axis": {"values": [-5, 0, 5], "labelExpr": "datum.value < 0 ? '-' + abs(datum.value) : '' + datum.value", "title": "Re(α, β)", "titlePadding": 2, "tickSize": 3, "labelPadding": 4}},
       "y": {"field": "lo", "type": "quantitative", "scale": {"domain": [-6.9, 7.59], "nice": false}, "axis": {"values": [-5, 0, 5], "labelExpr": "datum.value < 0 ? '-' + abs(datum.value) : '' + datum.value", "title": "Im(α, β)", "titlePadding": 4, "tickSize": 3, "labelPadding": 4}},
       "y2": {"field": "hi"}}},
     {"data": {"name": "scat"},
      "mark": {"type": "square", "size": 7, "opacity": 1},
      "encoding": {
       "x": {"field": "x", "type": "quantitative", "scale": {"domain": [-6.7, 6.6], "nice": false}},
       "y": {"field": "y", "type": "quantitative", "scale": {"domain": [-6.9, 7.59], "nice": false}},
       "color": {"field": "c", "type": "nominal", "scale": {"domain": ["b", "r"], "range": ["#3b66ea", "#f2161c"]}, "legend": null}}},
     {"data": {"values": [{"x": -3.2, "x2": 3.2, "y": 6.43}]},
      "mark": {"type": "rule", "color": "#444444", "strokeWidth": 1.5},
      "encoding": {
       "x": {"field": "x", "type": "quantitative", "scale": {"domain": [-6.7, 6.6], "nice": false}},
       "x2": {"field": "x2"},
       "y": {"field": "y", "type": "quantitative", "scale": {"domain": [-6.9, 7.59], "nice": false}}}},
     {"data": {"values": [{"x": -3.2, "y": 6.15, "y2": 6.7}, {"x": 3.2, "y": 6.15, "y2": 6.7}]},
      "mark": {"type": "rule", "color": "#444444", "strokeWidth": 1.5},
      "encoding": {
       "x": {"field": "x", "type": "quantitative", "scale": {"domain": [-6.7, 6.6], "nice": false}},
       "y": {"field": "y", "type": "quantitative", "scale": {"domain": [-6.9, 7.59], "nice": false}},
       "y2": {"field": "y2"}}},
     {"data": {"values": [{"x": 0, "y": 7.25, "t": "2Δα, 2Δβ"}]},
      "mark": {"type": "text", "font": "Liberation Serif", "fontSize": 15, "align": "center", "baseline": "middle"},
      "encoding": {
       "x": {"field": "x", "type": "quantitative", "scale": {"domain": [-6.7, 6.6], "nice": false}},
       "y": {"field": "y", "type": "quantitative", "scale": {"domain": [-6.9, 7.59], "nice": false}},
       "text": {"field": "t"}}},
     {"data": {"values": [{"x": -10.15, "y": 7.04, "t": "c)"}]},
      "mark": {"type": "text", "font": "Liberation Sans", "fontSize": 15, "align": "left", "baseline": "middle"},
      "encoding": {
       "x": {"field": "x", "type": "quantitative", "scale": {"domain": [-6.7, 6.6], "nice": false}},
       "y": {"field": "y", "type": "quantitative", "scale": {"domain": [-6.9, 7.59], "nice": false}},
       "text": {"field": "t"}}},
     {"data": {"values": [{"x": -6.7, "y": 7.3}]},
      "mark": {"type": "point", "shape": "triangle-up", "size": 30, "filled": true, "color": "black", "opacity": 1},
      "encoding": {
       "x": {"field": "x", "type": "quantitative", "scale": {"domain": [-6.7, 6.6], "nice": false}},
       "y": {"field": "y", "type": "quantitative", "scale": {"domain": [-6.9, 7.59], "nice": false}}}},
     {"data": {"values": [{"x": 6.6, "y": -6.9}]},
      "mark": {"type": "point", "shape": "triangle-right", "size": 30, "filled": true, "color": "black", "opacity": 1},
      "encoding": {
       "x": {"field": "x", "type": "quantitative", "scale": {"domain": [-6.7, 6.6], "nice": false}},
       "y": {"field": "y", "type": "quantitative", "scale": {"domain": [-6.9, 7.59], "nice": false}}}}
    ]
   },
   {
    "width": 174, "height": 137,
    "view": {"stroke": null},
    "layer": [
     {"data": {"name": "ring"},
      "mark": {"type": "line", "color": "#f2161c", "strokeWidth": 4.5},
      "encoding": {
       "x": {"field": "x", "type": "quantitative", "scale": {"domain": [-6.7, 6.6], "nice": false}, "axis": {"values": [-5, 0, 5], "labelExpr": "datum.value < 0 ? '-' + abs(datum.value) : '' + datum.value", "title": "Re(α, β)", "titlePadding": 2, "tickSize": 3, "labelPadding": 4}},
       "y": {"field": "y", "type": "quantitative", "scale": {"domain": [-7.0, 7.1], "nice": false}, "axis": {"values": [-5, 0, 5], "labelExpr": "datum.value < 0 ? '-' + abs(datum.value) : '' + datum.value", "title": "Im(α, β)", "titlePadding": 4, "tickSize": 3, "labelPadding": 4}},
       "order": {"field": "i", "type": "quantitative"}}},
     {"data": {"name": "zring"},
      "mark": {"type": "line", "color": "#2f7fe8", "strokeWidth": 3.5},
      "encoding": {
       "x": {"field": "x", "type": "quantitative", "scale": {"domain": [-6.7, 6.6], "nice": false}},
       "y": {"field": "y", "type": "quantitative", "scale": {"domain": [-7.0, 7.1], "nice": false}},
       "order": {"field": "i", "type": "quantitative"}}},
     {"data": {"values": [{"x": -0.3, "y": -0.15, "x2": -1.07, "y2": -4.0}, {"x": 0.35, "y": -0.15, "x2": 1.19, "y2": -4.0}]},
      "mark": {"type": "rule", "color": "#333333", "strokeWidth": 1, "strokeDash": [3, 2]},
      "encoding": {
       "x": {"field": "x", "type": "quantitative", "scale": {"domain": [-6.7, 6.6], "nice": false}},
       "y": {"field": "y", "type": "quantitative", "scale": {"domain": [-7.0, 7.1], "nice": false}},
       "x2": {"field": "x2"}, "y2": {"field": "y2"}}},
     {"data": {"values": [{"x": -1.0, "x2": 1.1, "y": -4.05}]},
      "mark": {"type": "rule", "color": "#666666", "strokeWidth": 2},
      "encoding": {
       "x": {"field": "x", "type": "quantitative", "scale": {"domain": [-6.7, 6.6], "nice": false}},
       "x2": {"field": "x2"},
       "y": {"field": "y", "type": "quantitative", "scale": {"domain": [-7.0, 7.1], "nice": false}}}},
     {"data": {"values": [{"x": -1.0, "y": -4.05}]},
      "mark": {"type": "point", "shape": "triangle-left", "size": 22, "filled": true, "color": "#666666", "opacity": 1},
      "encoding": {
       "x": {"field": "x", "type": "quantitative", "scale": {"domain": [-6.7, 6.6], "nice": false}},
       "y": {"field": "y", "type": "quantitative", "scale": {"domain": [-7.0, 7.1], "nice": false}}}},
     {"data": {"values": [{"x": 1.1, "y": -4.05}]},
      "mark": {"type": "point", "shape": "triangle-right", "size": 22, "filled": true, "color": "#666666", "opacity": 1},
      "encoding": {
       "x": {"field": "x", "type": "quantitative", "scale": {"domain": [-6.7, 6.6], "nice": false}},
       "y": {"field": "y", "type": "quantitative", "scale": {"domain": [-7.0, 7.1], "nice": false}}}},
     {"data": {"values": [{"x": 3.7, "y": -2.6, "y2": 2.55}]},
      "mark": {"type": "rule", "color": "#666666", "strokeWidth": 2},
      "encoding": {
       "x": {"field": "x", "type": "quantitative", "scale": {"domain": [-6.7, 6.6], "nice": false}},
       "y": {"field": "y", "type": "quantitative", "scale": {"domain": [-7.0, 7.1], "nice": false}},
       "y2": {"field": "y2"}}},
     {"data": {"values": [{"x": 3.7, "y": 2.6}]},
      "mark": {"type": "point", "shape": "triangle-up", "size": 22, "filled": true, "color": "#666666", "opacity": 1},
      "encoding": {
       "x": {"field": "x", "type": "quantitative", "scale": {"domain": [-6.7, 6.6], "nice": false}},
       "y": {"field": "y", "type": "quantitative", "scale": {"domain": [-7.0, 7.1], "nice": false}}}},
     {"data": {"values": [{"x": 3.7, "y": -2.65}]},
      "mark": {"type": "point", "shape": "triangle-down", "size": 22, "filled": true, "color": "#666666", "opacity": 1},
      "encoding": {
       "x": {"field": "x", "type": "quantitative", "scale": {"domain": [-6.7, 6.6], "nice": false}},
       "y": {"field": "y", "type": "quantitative", "scale": {"domain": [-7.0, 7.1], "nice": false}}}},
     {"data": {"values": [{"x": 0.05, "y": -5.1, "t": "2z₀"}, {"x": 5.0, "y": 0, "t": "2r₀"}]},
      "mark": {"type": "text", "font": "Liberation Serif", "fontSize": 16, "fontStyle": "italic", "align": "center", "baseline": "middle"},
      "encoding": {
       "x": {"field": "x", "type": "quantitative", "scale": {"domain": [-6.7, 6.6], "nice": false}},
       "y": {"field": "y", "type": "quantitative", "scale": {"domain": [-7.0, 7.1], "nice": false}},
       "text": {"field": "t"}}},
     {"data": {"values": [{"x": -6.7, "y": 7.1}]},
      "mark": {"type": "point", "shape": "triangle-up", "size": 30, "filled": true, "color": "black", "opacity": 1},
      "encoding": {
       "x": {"field": "x", "type": "quantitative", "scale": {"domain": [-6.7, 6.6], "nice": false}},
       "y": {"field": "y", "type": "quantitative", "scale": {"domain": [-7.0, 7.1], "nice": false}}}},
     {"data": {"values": [{"x": 6.6, "y": -7.0}]},
      "mark": {"type": "point", "shape": "triangle-right", "size": 30, "filled": true, "color": "black", "opacity": 1},
      "encoding": {
       "x": {"field": "x", "type": "quantitative", "scale": {"domain": [-6.7, 6.6], "nice": false}},
       "y": {"field": "y", "type": "quantitative", "scale": {"domain": [-7.0, 7.1], "nice": false}}}}
    ]
   }
  ]
 }
]
}
